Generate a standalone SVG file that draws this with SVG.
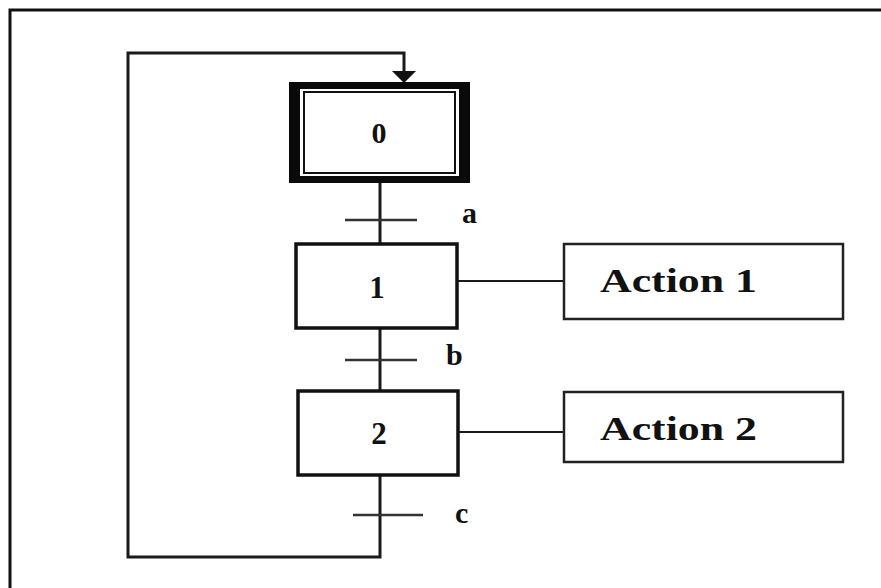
<svg xmlns="http://www.w3.org/2000/svg" width="881" height="588" viewBox="0 0 881 588">
<style>
.ln{stroke:#1a1a1a;stroke-width:3;fill:none}
.tr{stroke:#333;stroke-width:2.5;fill:none}
.box{fill:#fff;stroke:#111;stroke-width:3.5}
.abox{fill:#fff;stroke:#222;stroke-width:2.5}
.t{font-family:"Liberation Serif","Times New Roman",serif;font-weight:bold;fill:#111}
</style>
<rect x="0" y="0" width="881" height="588" fill="#fff"/>
<path d="M10,890 L10,10 L890,10" stroke="#111" stroke-width="3" fill="none"/>
<g id="connectors">
<path class="ln" d="M380,475 L380,557 L128,557 L128,53 L404,53 L404,74"/>
<path d="M392,71 L416,71 L404,83 z" fill="#111"/>
<path class="ln" d="M380,183 L380,243"/>
<path class="ln" d="M380,328 L380,390"/>
<path class="tr" d="M345,220 L417,220"/>
<path class="tr" d="M345,360 L417,360"/>
<path class="tr" d="M353,515 L423,515"/>
<path class="ln" style="stroke-width:2" d="M457,281 L563,281"/>
<path class="ln" style="stroke-width:2" d="M458,432 L563,432"/>
<text class="t" x="462" y="223" font-size="30">a</text>
<text class="t" x="446" y="365" font-size="30">b</text>
<text class="t" x="455" y="523" font-size="30">c</text>
</g>
<g id="step0">
<rect x="289" y="82" width="181" height="101" fill="#0a0a0a"/>
<rect x="300" y="89" width="159" height="87" fill="#fff"/>
<rect x="304" y="92" width="151" height="81" fill="#fff" stroke="#111" stroke-width="2"/>
<text class="t" x="379" y="143" font-size="30" text-anchor="middle">0</text>
</g>
<g id="step1">
<rect class="box" x="296" y="244" width="161" height="84"/>
<text class="t" x="377" y="298" font-size="31" text-anchor="middle">1</text>
</g>
<g id="step2">
<rect class="box" x="298" y="391" width="160" height="84"/>
<text class="t" x="379" y="444" font-size="31" text-anchor="middle">2</text>
</g>
<g id="action1">
<rect class="abox" x="564" y="244" width="279" height="75"/>
<text class="t" x="600" y="292" font-size="33" textLength="157" lengthAdjust="spacingAndGlyphs">Action 1</text>
</g>
<g id="action2">
<rect class="abox" x="564" y="392" width="279" height="70"/>
<text class="t" x="600" y="440" font-size="33" textLength="157" lengthAdjust="spacingAndGlyphs">Action 2</text>
</g>
</svg>
